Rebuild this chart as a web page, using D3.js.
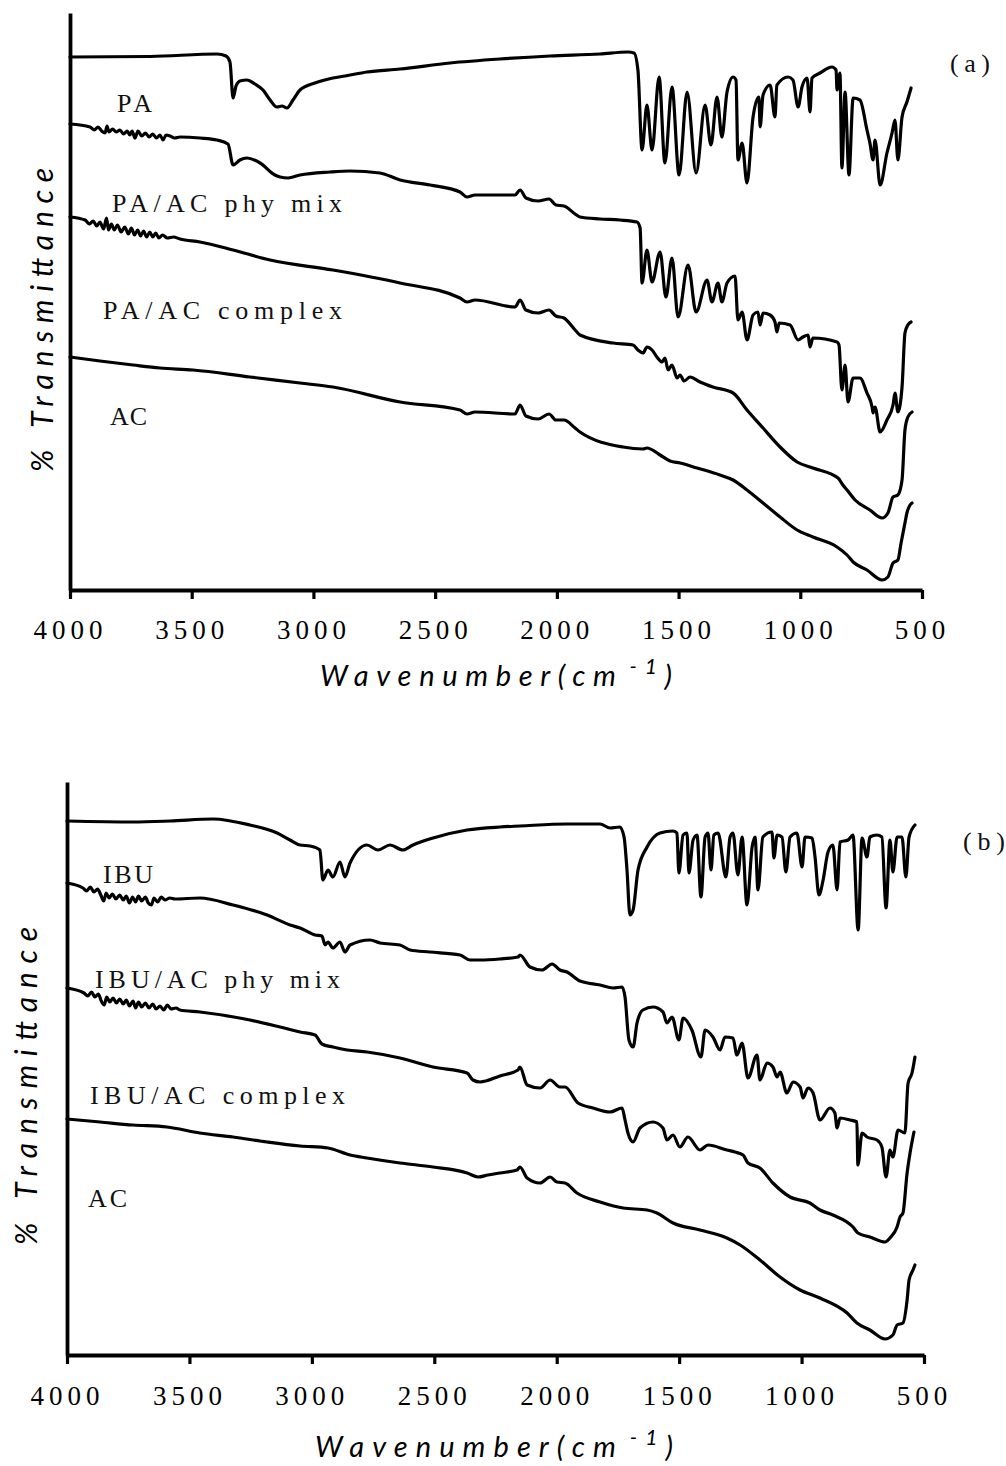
<!DOCTYPE html>
<html>
<head>
<meta charset="utf-8">
<script src="https://cdn.jsdelivr.net/npm/d3@7"></script>
<style>
  html, body { margin: 0; padding: 0; background: #fff; }
  svg { display: block; }
</style>
</head>
<body>
<script>
// ---------- axis content ----------
const tickValues = [4000, 3500, 3000, 2500, 2000, 1500, 1000, 500];
const tickLabels = ["4000", "3500", "3000", "2500", "2000", "1500", "1000", "500"];
const xTitleMain = "Wavenumber(cm";
const xTitleSup = "-1";
const xTitleEnd = ")";
const yTitle = "% Transmittance";

// ---------- panel (a): paracetamol spectra, [wavenumber cm-1, transmittance (offset units)] ----------
const paLabels = ["PA", "PA/AC phy mix", "PA/AC complex", "AC"];
const paTag = "(a)";

const paSpectrum = [
  [4000,53.3],[3671,53.35],[3396,53.6],[3359,53.4],[3343,52.8],[3330,49.2],[3318,50.4],[3302,50.9],[3273,51.0],
  [3240,50.6],[3207,50.0],[3178,49.0],[3150,48.3],[3129,48.4],[3109,48.2],[3084,49.0],[3055,50.0],[2994,50.7],
  [2920,51.2],[2870,51.4],[2780,51.8],[2644,52.1],[2439,52.7],[2234,53.1],[2028,53.4],[1823,53.6],[1708,53.8],
  [1683,53.7],[1667,52.0],[1650,44.0],[1630,48.5],[1609,44.0],[1580,51.3],[1556,42.7],[1527,50.3],[1498,41.5],
  [1465,49.8],[1428,41.7],[1391,48.5],[1367,44.5],[1342,49.3],[1322,45.3],[1301,49.8],[1276,51.3],[1264,51.0],
  [1256,43.0],[1239,44.7],[1219,40.7],[1194,47.3],[1170,49.3],[1165,46.3],[1153,49.5],[1124,50.5],[1104,47.3],
  [1096,50.5],[1050,51.3],[1030,51.0],[1009,48.3],[993,50.3],[972,51.2],[960,47.8],[952,51.2],[919,51.7],
  [870,52.3],[853,52.0],[849,50.0],[837,51.7],[829,42.2],[816,49.8],[800,41.5],[783,49.2],[755,49.0],[726,46.0],
  [714,44.7],[701,43.0],[693,45.0],[672,40.5],[644,43.7],[623,45.7],[611,47.0],[599,43.0],[582,47.3],[562,48.8],
  [545,50.2]
];

const paAcPhyMix = [
  [4000,46.6],[3918,46.3],[3900,46.0],[3885,46.3],[3870,45.9],[3856,45.7],[3848,46.4],[3840,45.8],[3825,46.1],
  [3810,45.8],[3795,46.0],[3780,45.6],[3765,45.9],[3754,45.5],[3745,45.9],[3733,45.2],[3721,45.9],[3705,45.4],
  [3690,45.7],[3675,45.3],[3660,45.6],[3645,45.2],[3630,45.5],[3618,45.0],[3605,45.5],[3589,45.4],[3570,45.2],
  [3548,45.3],[3466,45.2],[3396,45.0],[3351,44.6],
  [3330,42.5],[3302,43.0],[3273,43.2],[3219,42.7],[3158,41.5],[3137,41.3],[3104,41.2],[3055,41.5],[2932,41.8],
  [2850,41.9],[2727,41.7],[2644,41.0],[2521,40.5],[2398,39.8],[2369,39.3],[2336,39.5],[2234,39.5],[2172,39.5],
  [2151,40.0],[2127,39.2],[2077,38.9],[2032,39.1],[2004,38.5],[1971,38.4],[1925,37.6],[1905,37.3],[1823,37.1],
  [1741,37.0],[1671,36.8],[1658,36.2],[1650,30.7],[1630,34.0],[1609,30.8],[1576,33.8],[1552,29.3],[1527,33.2],
  [1502,27.3],[1461,32.5],[1428,27.8],[1383,31.0],[1363,28.8],[1338,30.7],[1322,28.8],[1301,30.7],[1268,31.4],
  [1256,27.0],[1239,27.8],[1219,25.0],[1194,27.5],[1174,27.8],[1165,26.5],[1153,27.7],[1124,27.5],[1104,26.8],
  [1096,25.8],[1087,26.7],[1042,26.5],[1009,25.0],[989,25.3],[968,25.5],[960,24.3],[948,25.2],[849,24.8],
  [841,24.5],[829,20.0],[816,22.5],[804,18.8],[783,21.2],[755,21.2],[726,19.7],[705,18.3],[701,17.7],[693,18.3],
  [672,15.8],[644,17.0],[619,18.5],[611,19.7],[599,17.8],[582,20.3],[570,25.7],[558,26.5],[545,26.8]
];

const paAcComplex = [
  [4000,37.3],[3938,37.0],[3920,36.6],[3905,36.9],[3890,36.4],[3877,36.8],[3862,36.1],[3850,37.2],[3842,36.0],
  [3830,36.6],[3818,36.0],[3805,36.5],[3790,35.8],[3775,36.3],[3760,35.6],[3748,36.2],[3735,35.5],[3722,36.0],
  [3710,35.4],[3698,35.9],[3685,35.3],[3672,35.8],[3660,35.3],[3648,35.7],[3635,35.2],[3620,35.5],[3600,35.2],
  [3575,35.3],[3548,35.1],[3466,34.8],
  [3330,34.0],[3178,33.0],[2920,32.0],[2644,30.7],[2398,29.2],[2369,28.8],[2336,29.0],[2172,28.3],[2151,29.0],
  [2127,28.0],[2077,27.7],[2032,28.0],[2004,27.4],[1971,27.2],[1925,26.0],[1905,25.5],[1769,24.7],[1687,24.5],
  [1667,24.0],[1646,23.7],[1630,24.3],[1609,24.0],[1589,23.3],[1568,22.8],[1556,23.2],[1543,22.0],[1527,22.5],
  [1506,21.2],[1494,21.5],[1477,20.9],[1453,21.3],[1412,20.8],[1359,20.3],[1276,19.7],[1219,18.0],[1153,16.2],
  [1083,14.3],[1013,12.8],[948,12.2],[845,11.2],[825,10.5],[808,10.0],[775,9.0],[714,8.0],[664,7.2],[640,7.7],
  [619,9.3],[599,9.5],[582,11.0],[570,16.0],[558,17.3],[541,17.8]
];

const acSpectrumA = [
  [4000,23.3],[3877,22.9],[3741,22.5],[3630,22.2],[3495,22.0],[3261,21.3],[3055,20.7],[2920,20.3],[2644,18.8],
  [2398,18.0],[2369,17.6],[2336,17.8],[2172,17.6],[2151,18.5],[2127,17.4],[2077,17.1],[2032,17.6],[2004,17.0],
  [1971,17.0],[1925,16.2],[1905,15.8],[1728,14.3],[1646,14.1],[1630,14.2],[1576,13.5],[1535,12.9],[1494,12.7],
  [1424,12.2],[1330,11.5],[1276,11.0],[1219,10.0],[1153,8.7],[1083,7.3],[1013,6.0],[948,5.3],[849,4.3],[808,3.5],
  [783,2.8],[726,2.0],[664,1.0],[640,1.3],[619,2.7],[599,3.0],[586,4.7],[570,6.7],[562,7.7],[549,8.5],[541,8.7]
];

// ---------- panel (b): ibuprofen spectra ----------
const ibuLabels = ["IBU", "IBU/AC phy mix", "IBU/AC complex", "AC"];
const ibuTag = "(b)";

const ibuSpectrum = [
  [4000,53.4],[3730,53.3],[3579,53.4],[3404,53.6],[3253,53.0],[3142,52.2],[3089,51.5],[3048,51.0],[3008,50.9],
  [2967,50.5],[2955,47.5],[2934,48.5],[2914,47.8],[2885,49.3],[2865,47.8],[2844,49.2],[2775,51.0],[2730,50.5],
  [2681,51.0],[2628,50.5],[2587,51.0],[2505,51.7],[2366,52.5],[2232,52.8],[2150,52.9],[1958,53.1],[1823,53.1],
  [1782,52.7],[1742,52.8],[1725,51.8],[1713,48.5],[1701,44.0],[1688,44.5],[1668,48.5],[1631,50.8],[1578,52.2],
  [1525,52.4],[1509,52.2],[1501,48.2],[1484,52.0],[1468,52.2],[1460,48.2],[1443,51.5],[1427,52.0],[1411,45.8],
  [1394,51.8],[1382,52.2],[1370,48.5],[1358,52.0],[1341,52.2],[1309,47.8],[1292,51.8],[1280,52.2],[1260,48.0],
  [1243,51.8],[1223,45.0],[1202,50.8],[1190,51.8],[1178,46.5],[1158,51.8],[1121,52.3],[1113,49.7],[1100,52.0],
  [1080,51.8],[1064,48.3],[1047,51.8],[1019,52.2],[998,48.8],[986,51.8],[957,51.7],[945,49.8],[929,46.0],
  [912,47.5],[892,50.3],[872,51.0],[855,46.5],[843,51.3],[810,51.5],[790,52.0],[769,42.5],[753,51.7],[733,49.8],
  [721,51.8],[692,52.0],[672,51.8],[655,44.7],[639,51.5],[627,48.3],[610,51.8],[590,51.8],[574,47.8],[561,51.8],
  [537,53.0]
];

const ibuAcPhyMix = [
  [4000,47.2],[3935,46.7],[3920,46.4],[3905,46.8],[3890,46.3],[3875,46.6],[3862,46.0],[3850,45.4],[3840,46.2],
  [3828,45.7],[3815,46.1],[3800,45.6],[3785,46.0],[3770,45.5],[3758,45.9],[3745,45.2],[3732,45.8],[3720,45.3],
  [3708,45.9],[3695,45.4],[3680,45.8],[3668,45.2],[3655,45.0],[3645,45.7],[3630,45.3],[3615,45.8],[3600,45.5],
  [3580,45.7],[3559,45.6],[3457,45.7],[3322,45.0],[3183,44.0],[3089,43.0],
  [3048,42.7],[2987,42.0],[2959,41.9],[2946,41.0],[2934,41.3],[2914,40.7],[2885,41.3],[2865,40.3],[2844,41.0],
  [2763,41.5],[2722,41.2],[2640,41.0],[2599,40.5],[2518,40.3],[2395,40.0],[2354,39.5],[2313,39.5],[2232,39.6],
  [2158,39.8],[2150,40.0],[2109,38.8],[2060,38.5],[2019,39.1],[1987,38.5],[1958,38.3],[1905,37.4],[1823,37.0],
  [1770,36.7],[1733,36.8],[1721,35.8],[1705,31.5],[1688,30.8],[1672,33.2],[1648,34.5],[1607,34.8],[1566,34.3],
  [1550,33.2],[1529,33.8],[1501,31.5],[1484,33.7],[1448,32.5],[1411,29.8],[1394,32.5],[1362,31.8],[1333,30.5],
  [1313,31.8],[1280,31.7],[1264,30.0],[1243,31.2],[1219,27.7],[1182,30.0],[1170,27.5],[1141,29.2],[1117,28.8],
  [1100,27.8],[1088,28.3],[1060,26.2],[1035,27.3],[1006,26.8],[994,25.7],[974,26.7],[953,26.2],[925,23.5],
  [884,24.7],[864,24.2],[855,22.7],[843,23.7],[802,23.5],[774,23.3],[770,19.0],[753,22.2],[733,21.8],[692,21.5],
  [672,20.8],[655,17.8],[639,20.5],[627,19.8],[606,22.5],[578,22.2],[565,27.2],[549,28.2],[537,29.8]
];

const ibuAcComplex = [
  [4000,36.7],[3931,36.2],[3915,35.9],[3900,36.3],[3886,35.8],[3872,36.1],[3860,35.4],[3848,35.0],[3838,35.8],
  [3825,35.3],[3812,35.7],[3798,35.2],[3785,35.6],[3770,35.1],[3758,35.5],[3745,34.9],[3730,35.4],[3720,34.7],
  [3708,35.3],[3695,34.8],[3680,35.2],[3665,34.7],[3650,35.1],[3636,34.6],[3620,34.9],[3605,34.5],[3590,35.0],
  [3575,34.6],[3555,34.7],[3539,34.5],[3457,34.3],[3253,33.5],[3130,32.8],[3048,32.3],
  [2987,32.0],[2959,31.1],[2914,30.8],[2856,30.5],[2775,30.3],[2640,29.7],[2505,28.8],[2366,28.2],[2342,27.5],
  [2313,27.3],[2232,27.9],[2158,28.5],[2150,28.8],[2121,27.0],[2068,26.7],[2027,27.5],[1987,26.8],[1966,26.8],
  [1913,25.2],[1852,24.7],[1782,24.3],[1733,24.7],[1721,23.5],[1709,22.2],[1688,21.3],[1660,22.7],[1607,23.3],
  [1566,22.7],[1550,21.5],[1525,22.0],[1497,20.8],[1464,21.8],[1415,20.5],[1382,21.0],[1305,20.5],[1272,20.3],
  [1239,20.0],[1219,19.2],[1170,18.7],[1117,17.2],[1047,15.8],[966,15.2],[925,14.5],[872,14.0],[790,12.8],
  [770,12.2],[721,11.8],[659,11.3],[639,11.7],[610,12.8],[598,13.8],[586,14.2],[569,18.2],[557,20.2],[541,22.3]
];

const acSpectrumB = [
  [4000,23.6],[3865,23.3],[3730,23.0],[3592,22.8],[3457,22.2],[3322,21.8],[3183,21.3],[3048,20.9],[2934,20.7],
  [2844,20.0],[2775,19.7],[2640,19.2],[2505,18.8],[2366,18.2],[2321,17.8],[2281,18.0],[2232,18.2],[2162,18.5],
  [2150,18.8],[2121,17.7],[2068,17.2],[2027,17.8],[1999,17.3],[1966,17.2],[1917,16.2],[1823,15.3],[1729,14.7],
  [1631,14.5],[1591,14.2],[1525,13.2],[1415,12.5],[1305,11.7],[1251,11.0],[1170,9.5],[1088,7.8],[1006,6.5],
  [925,5.7],[814,4.2],[774,3.2],[721,2.5],[659,1.6],[627,2.0],[610,3.0],[586,3.2],[569,5.5],[561,7.5],[545,8.5],
  [537,9.0]
];

// ---------- layout ----------
const W = 1006, H = 1466;
const svg = d3.select("body").append("svg").attr("width", W).attr("height", H);

const LABEL_FONT = "'Liberation Serif', 'Times New Roman', serif";
const TITLE_FONT = "Lato, 'Open Sans', sans-serif";

const panels = [
  {
    series: [paSpectrum, paAcPhyMix, paAcComplex, acSpectrumA],
    labels: paLabels, tag: paTag,
    left: 70, right: 922, top: 13, bottom: 590, yMax: 57.7,
    labelPos: [[117,112,35],[112,212,230],[103,319,239],[110,425,37]],
    tagPos: [950, 72, 40],
    tickLabelY: 49, xTitleX: [320, 672], xTitleY: 686,
    yTitle: [53, 320, 304]
  },
  {
    series: [ibuSpectrum, ibuAcPhyMix, ibuAcComplex, acSpectrumB],
    labels: ibuLabels, tag: ibuTag,
    left: 67, right: 924, top: 782, bottom: 1355, yMax: 57.3,
    labelPos: [[103,883,50],[95,988,245],[90,1104,255],[88,1207,39]],
    tagPos: [963, 850, 42],
    tickLabelY: 50, xTitleX: [315, 673], xTitleY: 1457,
    yTitle: [37, 1086, 318]
  }
];

panels.forEach(p => {
  const g = svg.append("g");
  const x = d3.scaleLinear().domain([4000, 500]).range([p.left, p.right]);
  const y = d3.scaleLinear().domain([0, p.yMax]).range([p.bottom, p.top]);

  // spectra
  const line = d3.line().x(d => x(d[0])).y(d => y(d[1])).curve(d3.curveMonotoneX);
  g.selectAll("path.trace").data(p.series).join("path")
    .attr("class", "trace")
    .attr("d", line)
    .attr("fill", "none")
    .attr("stroke", "#000")
    .attr("stroke-width", 3.2)
    .attr("stroke-linejoin", "round")
    .attr("stroke-linecap", "round");

  // x axis
  const xAxis = d3.axisBottom(x).tickValues(tickValues).tickSize(9).tickSizeOuter(0)
    .tickFormat((d, i) => tickLabels[i]);
  const gx = g.append("g").attr("transform", `translate(0,${p.bottom})`).call(xAxis);
  gx.select(".domain").attr("stroke", "#000").attr("stroke-width", 3.8);
  gx.selectAll(".tick line").attr("stroke", "#000").attr("stroke-width", 3.2);
  gx.selectAll(".tick text")
    .attr("y", p.tickLabelY).attr("dy", null)
    .attr("fill", "#000")
    .style("font-family", LABEL_FONT)
    .style("font-size", "27px")
    .style("letter-spacing", "5px");

  // y axis (no ticks)
  const yAxis = d3.axisLeft(y).tickValues([]).tickSizeOuter(0);
  const gy = g.append("g").attr("transform", `translate(${p.left},0)`).call(yAxis);
  gy.select(".domain").attr("stroke", "#000").attr("stroke-width", 3.8);

  // series labels
  p.labels.forEach((t, i) => {
    const [lx, ly, len] = p.labelPos[i];
    g.append("text").attr("x", lx).attr("y", ly)
      .attr("textLength", len).attr("lengthAdjust", "spacing")
      .style("font-family", LABEL_FONT).style("font-size", "26px")
      .attr("fill", "#111").text(t);
  });

  // panel tag
  g.append("text").attr("x", p.tagPos[0]).attr("y", p.tagPos[1])
    .attr("textLength", p.tagPos[2]).attr("lengthAdjust", "spacing")
    .style("font-family", LABEL_FONT).style("font-size", "26px")
    .attr("fill", "#111").text(p.tag);

  // x title with superscript
  const xt = g.append("text").attr("x", p.xTitleX[0]).attr("y", p.xTitleY)
    .style("font-family", TITLE_FONT).style("font-style", "italic")
    .style("font-size", "29px").attr("fill", "#000");
  xt.append("tspan").text(xTitleMain);
  xt.append("tspan").attr("dx", 6).attr("dy", -12).style("font-size", "21px").text(xTitleSup);
  xt.append("tspan").attr("dy", 12).text(xTitleEnd);
  const w0 = xt.node().getBBox().width;
  const nChars = xTitleMain.length + xTitleSup.length + xTitleEnd.length;
  const spacing = ((p.xTitleX[1] - p.xTitleX[0]) - w0) / (nChars - 1);
  xt.style("letter-spacing", spacing + "px");

  // y title
  g.append("text")
    .attr("transform", `translate(${p.yTitle[0]},${p.yTitle[1]}) rotate(-90)`)
    .attr("text-anchor", "middle")
    .attr("textLength", p.yTitle[2]).attr("lengthAdjust", "spacing")
    .style("font-family", TITLE_FONT).style("font-style", "italic")
    .style("font-size", "30px").attr("fill", "#000")
    .text(yTitle);
});
</script>
</body>
</html>
